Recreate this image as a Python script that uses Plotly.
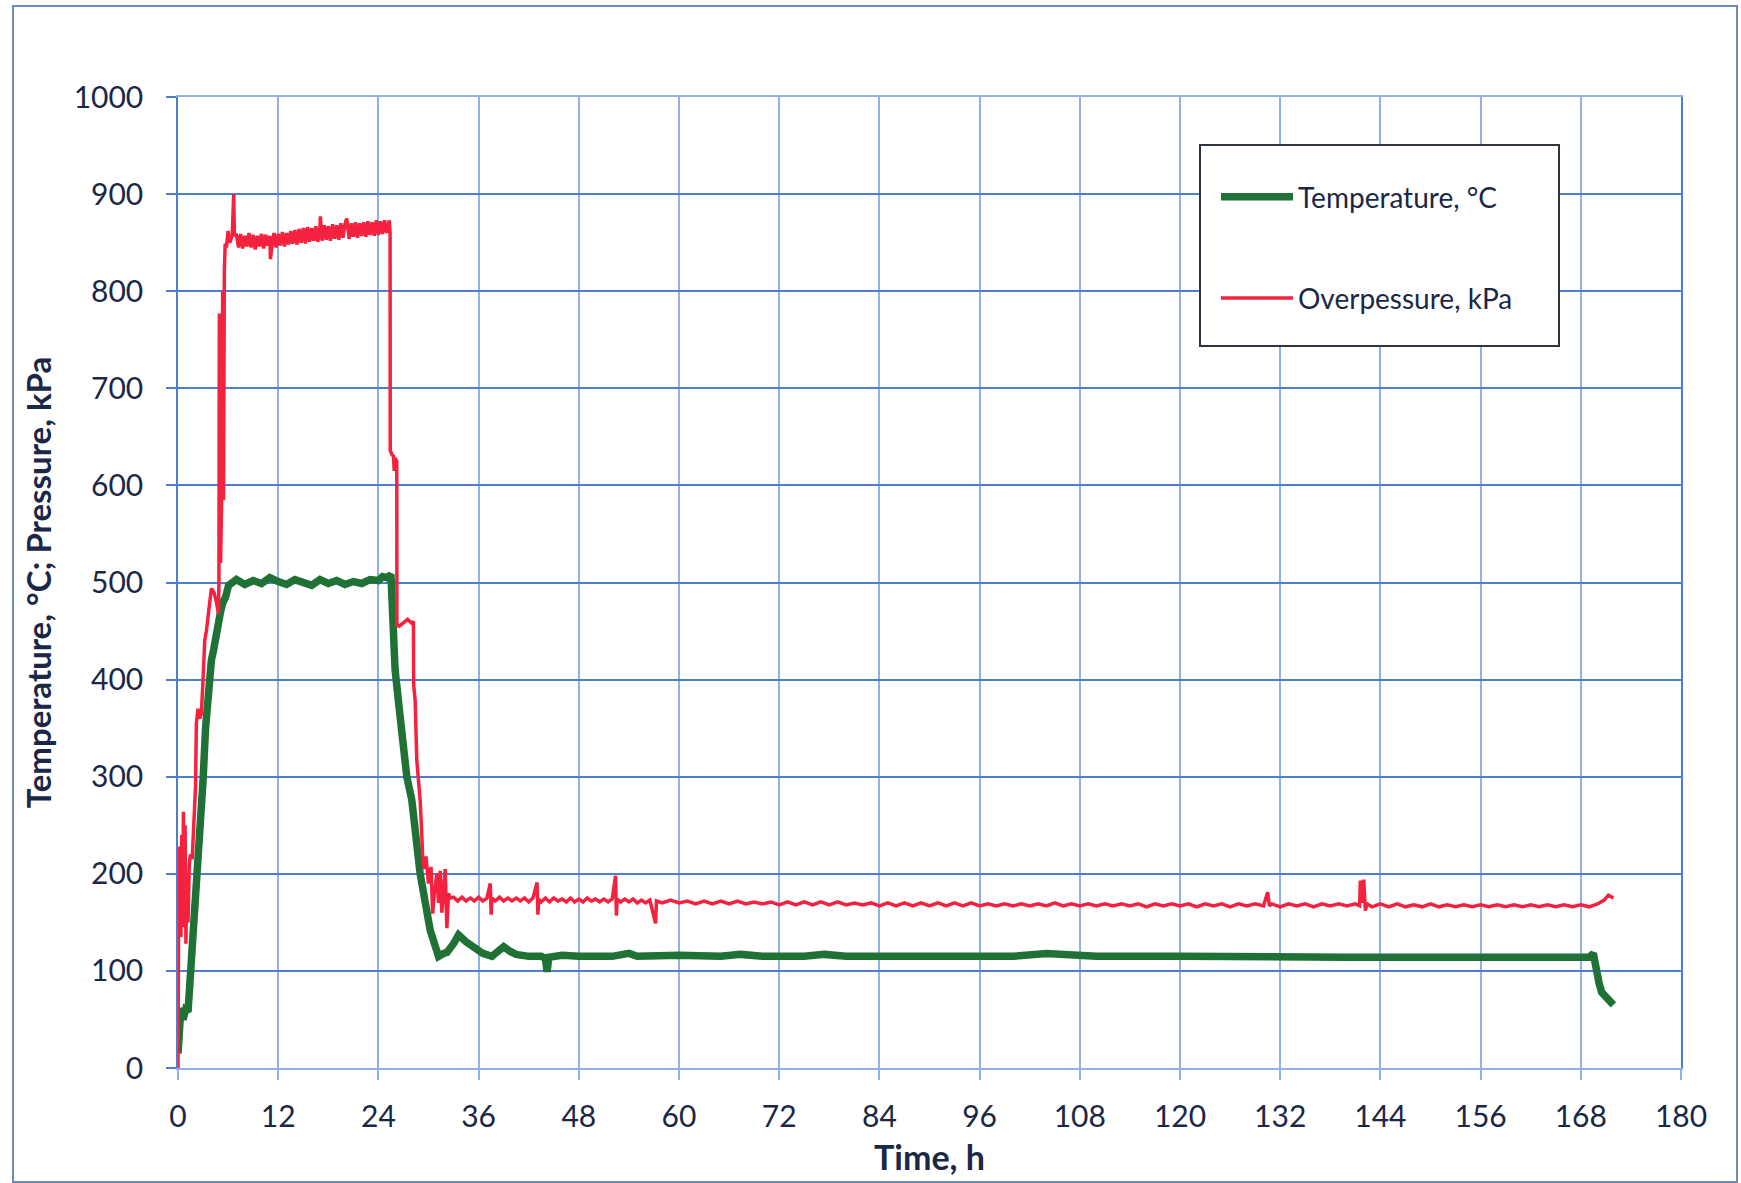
import plotly.graph_objects as go

# ---------------- data ----------------
temp_t = [0.0, 0.1, 0.2, 0.35, 0.6, 0.9, 1.2, 1.5, 1.8, 2.2, 2.6, 3.0, 3.3, 3.65, 4.0, 4.25,
          4.5, 4.85, 5.1, 5.4, 5.7, 6.05, 6.5, 7.0, 8.0, 9.0, 10.0, 11.0, 12.0, 13.0, 14.0,
          15.0, 16.0, 17.0, 18.0, 19.0, 20.0, 21.0, 22.0, 23.0, 24.0, 24.5, 25.0, 25.5,
          25.6, 25.8, 26.0, 26.5, 27.4, 28.0, 29.0, 30.2, 31.0, 31.2, 31.8, 32.2, 33.0,
          33.6, 34.5, 35.5, 36.5, 37.6, 38.3, 39.0, 39.8, 40.5, 42.0, 43.5, 44.0, 44.2,
          44.4, 46.0, 48.0, 50.0, 52.0, 54.0, 55.0, 60.0, 65.0, 67.4, 70.0, 75.0, 77.4,
          80.0, 90.0, 100.0, 104.0, 110.0, 120.0, 130.0, 140.0, 150.0, 160.0, 165.0,
          169.0, 169.5, 169.8, 170.2, 170.5, 171.2, 171.9]
temp_v = [15, 30, 55, 62, 50, 60, 58, 95, 140, 200, 250, 296, 350, 400, 420, 430,
          445, 455, 470, 480, 485, 497, 500, 503, 498, 502, 499, 505, 501, 498, 503,
          500, 497, 503, 499, 502, 498, 501, 499, 503, 502, 506, 505, 508,
          480, 450, 410, 370, 300, 276, 200, 142, 120, 115, 118, 119, 128,
          137, 130, 123, 118, 115, 120, 125, 120, 117, 115, 115, 113, 99,
          114, 116, 115, 115, 115, 118, 115, 116, 115, 117, 115, 115, 117,
          115, 115, 115, 118, 115, 115, 114, 114, 114, 113, 113,
          114, 118, 100, 87, 78, 70, 65]

# overpressure, (time h, kPa) read in segments
pres_rise = [(0.0, 0), (0.05, 130), (0.1, 228), (0.15, 150), (0.25, 210), (0.35, 135),
             (0.45, 240), (0.55, 160), (0.65, 264), (0.75, 145), (0.85, 250), (0.95, 128),
             (1.05, 200), (1.2, 150), (1.35, 210), (1.5, 220), (1.7, 215), (1.9, 250),
             (2.1, 290), (2.2, 355), (2.4, 370), (2.6, 360), (2.8, 365), (3.0, 400),
             (3.2, 440), (3.4, 450), (3.7, 470), (4.0, 494), (4.3, 490), (4.6, 480),
             (4.85, 468), (4.9, 500), (4.95, 777), (5.05, 770), (5.1, 520), (5.25, 600),
             (5.35, 800), (5.45, 585), (5.55, 820), (5.65, 849), (5.8, 845), (6.0, 862),
             (6.2, 850), (6.5, 858), (6.67, 900), (6.75, 858)]
pres_plateau = [(7.0, 858), (7.25, 845), (7.5, 859), (7.75, 844), (8.0, 857), (8.25, 846),
                (8.5, 860), (8.75, 845), (9.0, 858), (9.25, 843), (9.5, 857), (9.75, 846),
                (10.0, 859), (10.25, 844), (10.5, 858), (10.75, 847), (11.0, 857), (11.07, 833),
                (11.25, 846), (11.5, 860), (11.75, 845), (12.0, 859), (12.25, 847), (12.5, 861),
                (12.75, 846), (13.0, 860), (13.25, 848), (13.5, 862), (13.75, 849), (14.0, 863),
                (14.25, 848), (14.5, 864), (14.75, 850), (15.0, 865), (15.25, 849), (15.5, 866),
                (15.75, 851), (16.0, 865), (16.25, 852), (16.5, 867), (16.75, 851), (17.0, 866),
                (17.05, 877), (17.25, 852), (17.5, 868), (17.75, 853), (18.0, 867), (18.25, 852),
                (18.5, 869), (18.75, 854), (19.0, 868), (19.25, 853), (19.5, 870), (19.75, 855),
                (20.0, 869), (20.2, 875), (20.5, 854), (20.75, 870), (21.0, 856), (21.25, 871),
                (21.5, 855), (21.75, 870), (22.0, 857), (22.25, 871), (22.5, 856), (22.75, 872),
                (23.0, 858), (23.25, 871), (23.5, 857), (23.75, 873), (24.0, 858), (24.25, 872),
                (24.5, 859), (24.75, 873), (25.0, 860), (25.3, 873), (25.4, 860)]
pres_drop = [(25.42, 636), (25.6, 632), (25.8, 630), (25.9, 615), (26.0, 628), (26.2, 625),
             (26.22, 456), (26.5, 455), (27.0, 458), (27.5, 462), (28.0, 458), (28.2, 460),
             (28.22, 395), (28.4, 379), (28.6, 317), (28.8, 300), (29.0, 276), (29.2, 240),
             (29.3, 217), (29.5, 205), (29.7, 218), (30.0, 190), (30.3, 207), (30.5, 159),
             (30.7, 180), (31.0, 200), (31.2, 170), (31.4, 203), (31.6, 160), (32.0, 205),
             (32.2, 144), (32.4, 180), (32.6, 175)]
pres_flat = [(33, 176), (33.5, 172), (34, 176), (34.5, 172), (35, 175), (35.5, 172), (36, 176),
             (36.5, 172), (37, 175), (37.4, 190), (37.5, 158), (37.6, 175), (38, 172),
             (38.5, 176), (39, 172), (39.5, 175), (40, 172), (40.5, 175), (41, 172), (41.5, 175),
             (42, 171), (42.5, 175), (43.0, 191), (43.1, 158), (43.2, 174), (43.5, 171),
             (44, 175), (44.5, 171), (45, 175), (45.5, 172), (46, 174), (46.5, 171), (47, 175),
             (47.5, 171), (48, 174), (48.5, 171), (49, 175), (49.5, 172), (50, 174), (50.5, 171),
             (51, 174), (51.5, 171), (52, 174), (52.4, 198), (52.5, 157), (52.6, 174), (53, 171),
             (53.5, 174), (54, 171), (54.5, 174), (55, 170), (55.5, 173), (56, 170), (56.5, 173),
             (57.2, 149), (57.3, 172), (58, 170), (59, 173), (60, 170), (61, 172), (62, 169),
             (63, 172), (64, 169), (65, 172), (66, 169), (67, 172), (68, 169), (69, 171),
             (70, 169), (71, 171), (72, 168), (73, 171), (74, 168), (75, 171), (76, 168),
             (77, 171), (78, 168), (79, 171), (80, 168), (81, 170), (82, 168), (83, 170),
             (84, 167), (85, 170), (86, 167), (87, 170), (88, 167), (89, 170), (90, 167),
             (91, 170), (92, 167), (93, 170), (94, 167), (95, 170), (96, 167), (97, 169),
             (98, 167), (99, 169), (100, 167), (101, 169), (102, 167), (103, 169), (104, 167),
             (105, 170), (106, 167), (107, 169), (108, 167), (109, 169), (110, 167), (111, 169),
             (112, 167), (113, 169), (114, 167), (115, 169), (116, 166), (117, 169), (118, 167),
             (119, 169), (120, 167), (121, 169), (122, 166), (123, 169), (124, 167), (125, 169),
             (126, 166), (127, 169), (128, 167), (129, 169), (130, 167), (130.5, 181),
             (130.7, 167), (131, 169), (132, 166), (133, 169), (134, 167), (135, 169),
             (136, 166), (137, 169), (138, 167), (139, 169), (140, 167), (141, 169),
             (141.5, 167), (141.6, 193), (141.8, 170), (142.0, 194), (142.2, 162), (142.4, 169),
             (143, 166), (144, 169), (145, 166), (146, 169), (147, 166), (148, 168), (149, 166),
             (150, 169), (151, 166), (152, 168), (153, 166), (154, 168), (155, 166), (156, 168),
             (157, 166), (158, 168), (159, 166), (160, 168), (161, 166), (162, 168), (163, 166),
             (164, 168), (165, 166), (166, 168), (167, 166), (168, 168), (169, 166), (170, 169),
             (170.8, 173), (171.3, 178), (171.9, 175)]

x_ticks = [0, 12, 24, 36, 48, 60, 72, 84, 96, 108, 120, 132, 144, 156, 168, 180]
y_ticks = [0, 100, 200, 300, 400, 500, 600, 700, 800, 900, 1000]

pres_all = pres_rise + pres_plateau + pres_drop + pres_flat
pres_t = [p[0] for p in pres_all]
pres_v = [p[1] for p in pres_all]

# ---------------- figure ----------------
W, H = 1741, 1183
ML, MR, MT, MB = 178, 60, 97, 115
PW, PH = W - ML - MR, H - MT - MB


def px(x):
    return (x - ML) / PW


def py(y):
    return (H - MB - y) / PH


FONT = "Lato, 'Open Sans', sans-serif"
TXT = "#1b2746"
GREEN = "#1f7136"
RED = "#f4223f"

fig = go.Figure()
fig.add_trace(go.Scatter(x=temp_t, y=temp_v, mode="lines", name="Temperature, °C",
                         legendgroup="t", line=dict(color=GREEN, width=7.5)))
fig.add_trace(go.Scatter(x=pres_t, y=pres_v, mode="lines", name="Overpessure, kPa",
                         legendgroup="p", line=dict(color=RED, width=3.5)))

shapes = [
    # outer frame of the scanned chart
    dict(type="rect", xref="paper", yref="paper", x0=px(13), x1=px(1737), y0=py(1182), y1=py(6),
         line=dict(color="#6f88b4", width=2), layer="below"),
    # legend box
    dict(type="rect", xref="paper", yref="paper", x0=px(1200), x1=px(1559), y0=py(346), y1=py(145),
         line=dict(color="#2e3440", width=2), fillcolor="white", layer="above"),
]

fig.update_layout(
    width=W, height=H,
    margin=dict(l=ML, r=MR, t=MT, b=MB, pad=0),
    paper_bgcolor="white", plot_bgcolor="white",
    font=dict(family=FONT, color=TXT, size=30),
    showlegend=True,
    legend=dict(x=px(1216), y=py(172), xanchor="left", yanchor="top",
                bgcolor="rgba(0,0,0,0)", borderwidth=0, tracegroupgap=62,
                itemwidth=72,
                font=dict(family=FONT, size=28, color=TXT)),
    shapes=shapes,
)

fig.update_xaxes(range=[0, 180], tickvals=x_ticks, ticktext=[str(v) for v in x_ticks],
                 showgrid=True, gridcolor="#8fb1ea", gridwidth=1.5,
                 showline=True, linecolor="#8fb1ea", linewidth=1.5, mirror=True,
                 zeroline=False, ticks="outside", ticklen=10, tickcolor="#8fb1ea",
                 tickwidth=1.5, ticklabelstandoff=11,
                 tickfont=dict(family=FONT, size=30, color=TXT),
                 title=dict(text="<b>Time, h</b>", standoff=14,
                            font=dict(family=FONT, size=34, color=TXT)))
fig.update_yaxes(range=[0, 1000], tickvals=y_ticks, ticktext=[str(v) for v in y_ticks],
                 showgrid=True, gridcolor="#4d7fd0", gridwidth=1.5,
                 showline=True, linecolor="#4d7fd0", linewidth=1.5, mirror=True,
                 zeroline=False, ticks="outside", ticklen=10, tickcolor="#4d7fd0",
                 tickwidth=1.5, ticklabelstandoff=17,
                 tickfont=dict(family=FONT, size=30, color=TXT),
                 title=dict(text="<b>Temperature, °C; Pressure, kPa</b>", standoff=12,
                            font=dict(family=FONT, size=33, color=TXT)))

fig.write_html("out.html", config={"displayModeBar": False},
               post_script="document.body.style.margin='0';document.body.style.overflow='hidden';")
